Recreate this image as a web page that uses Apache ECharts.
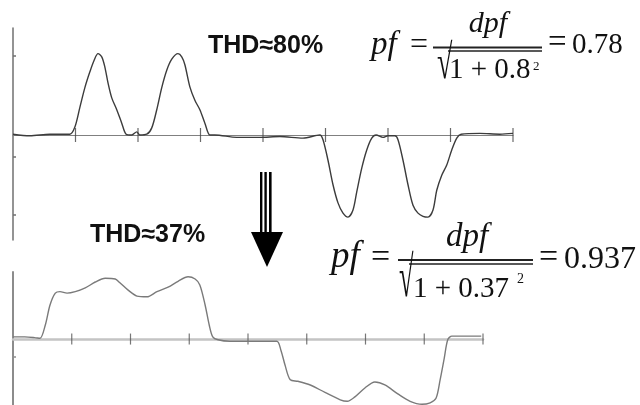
<!DOCTYPE html>
<html><head><meta charset="utf-8">
<script src="https://cdn.jsdelivr.net/npm/echarts@6/dist/echarts.min.js"></script>
<style>html,body{margin:0;padding:0;background:#fff}#c{width:640px;height:405px}</style>
</head><body><div id="c"></div>
<script>
// ---- data (time in tick units 0..8, amplitude relative) ----
const xTicks = [1,2,3,4,5,6,7,8];
const topX = [0,0.27,0.59,0.91,0.99,1.07,1.15,1.23,1.3,1.36,1.42,1.47,1.52,1.58,1.66,1.74,1.81,1.9,1.98,2.03,2.14,2.22,2.3,2.38,2.46,2.54,2.64,2.7,2.75,2.83,2.91,2.99,3.07,3.15,3.23,3.58,3.95,4.27,4.64,4.91,4.96,5.04,5.12,5.2,5.28,5.36,5.44,5.5,5.58,5.66,5.74,5.81,5.92,6.0,6.11,6.16,6.24,6.32,6.4,6.48,6.56,6.64,6.72,6.78,6.86,6.94,7.02,7.1,7.17,7.47,7.79,8.0];
const topY = [0.01,-0.01,0.01,0.01,0.1,0.35,0.6,0.8,0.95,1.03,0.99,0.86,0.66,0.47,0.32,0.15,0.01,0,0.04,0,0.01,0.09,0.32,0.6,0.82,0.96,1.03,0.99,0.89,0.61,0.44,0.32,0.15,0,0,-0.03,-0.03,-0.02,-0.04,0,-0.06,-0.32,-0.63,-0.86,-0.99,-1.04,-0.95,-0.72,-0.42,-0.19,-0.04,0,-0.03,-0.01,-0.01,-0.06,-0.32,-0.63,-0.89,-0.99,-1.03,-1.04,-0.95,-0.7,-0.51,-0.38,-0.19,-0.04,0.01,0.02,0.01,0.02];
const botX = [0,0.2,0.37,0.46,0.55,0.63,0.72,0.8,0.92,1.06,1.23,1.4,1.57,1.74,1.82,1.96,2.11,2.28,2.45,2.64,2.81,2.98,3.1,3.18,3.27,3.34,3.4,3.49,3.69,4.03,4.49,4.56,4.63,4.72,4.85,5.06,5.31,5.57,5.69,5.82,5.99,6.16,6.33,6.55,6.76,6.96,7.1,7.2,7.27,7.34,7.4,7.47,7.61,7.78,7.97];
const botY = [0.03,0.03,0.02,0.01,0.19,0.46,0.62,0.64,0.62,0.64,0.69,0.77,0.82,0.81,0.76,0.66,0.58,0.57,0.64,0.7,0.78,0.84,0.81,0.73,0.46,0.19,0.03,-0.01,-0.03,-0.03,-0.03,-0.15,-0.35,-0.55,-0.57,-0.62,-0.72,-0.82,-0.84,-0.78,-0.66,-0.58,-0.62,-0.74,-0.84,-0.88,-0.86,-0.8,-0.55,-0.26,-0.01,0.04,0.04,0.04,0.04];
const topYTicks = [1, -0.28, -1.01];
const botYTicks = [-0.24];
const thdTop = 'THD≈80%';
const thdBot = 'THD≈37%';

const chart = echarts.init(document.getElementById('c'), null, {renderer:'canvas'});
const zip = (xs, ys) => xs.map((x, i) => [x, ys[i]]);

function xAx(grid, lineColor, lineWidth) {
  return {type:'value', gridIndex:grid, min:0, max:8, interval:1,
    axisLine:{show:true, onZero:true, lineStyle:{color:lineColor, width:lineWidth}},
    axisTick:{show:false}, axisLabel:{show:false}, splitLine:{show:false}};
}
function yAx(grid, min, max, color, width, ticks) {
  return {type:'value', gridIndex:grid, min:min, max:max,
    axisLine:{show:true, onZero:false, lineStyle:{color:color, width:width}},
    axisTick:{show:true, inside:true, length:3, customValues:ticks, lineStyle:{color:color, width:1.5}},
    axisLabel:{show:false}, splitLine:{show:false}};
}

const SERIF = '"Liberation Serif", "Times New Roman", serif';
const SANS = '"Liberation Sans", Arial, sans-serif';
function T(x, base, text, size, opts) {
  opts = opts || {};
  const sy = opts.scaleY || 1;
  return {type:'text', x:x, y:base - 0.34*size*sy, scaleX:opts.scaleX||1, scaleY:sy,
    style:{text:text, font:(opts.italic?'italic ':'')+(opts.bold?'bold ':'')+size+'px '+(opts.family||SERIF),
      fill:'#111', align:opts.align||'left', verticalAlign:'middle'}};
}
function L(x1, y1, x2, y2, w) {
  return {type:'line', shape:{x1:x1, y1:y1, x2:x2, y2:y2}, style:{stroke:'#222', lineWidth:w}};
}

const graphics = [
  T(208, 55, thdTop, 25, {bold:true, family:SANS}),
  T(90, 244, thdBot, 25, {bold:true, family:SANS}),
  // formula 1
  T(371, 57, 'pf', 33, {italic:true}),
  T(410, 56, '=', 32),
  T(488, 34, 'dpf', 30, {italic:true, align:'center'}),
  L(433, 47.5, 542, 47.5, 2),
  L(448, 51, 542, 51, 1.5),
  T(437, 82, '√', 40, {scaleX:0.7, scaleY:1.22}),
  T(449, 80, '1 + 0.8', 29),
  T(533, 71, '2', 13),
  T(548, 55, '=', 33),
  T(572, 55, '0.78', 29),
  // formula 2
  T(331, 270, 'pf', 37, {italic:true}),
  T(371, 270, '=', 34),
  T(467, 249, 'dpf', 33, {italic:true, align:'center'}),
  L(398, 260, 533, 260, 2),
  L(409, 264, 533, 264, 1.5),
  T(399, 300, '√', 44, {scaleX:0.6, scaleY:1.3}),
  T(413, 299, '1 + 0.37', 29),
  T(517, 284, '2', 14),
  T(539, 270, '=', 34),
  T(564, 270, '0.937', 32),
  // arrow
  {type:'rect', shape:{x:260, y:172, width:2.4, height:61}, style:{fill:'#000'}},
  {type:'rect', shape:{x:264.4, y:172, width:2.4, height:61}, style:{fill:'#000'}},
  {type:'rect', shape:{x:269, y:172, width:2.6, height:61}, style:{fill:'#000'}},
  {type:'polygon', shape:{points:[[251,232],[283,232],[267,267]]}, style:{fill:'#000'}}
];

chart.setOption({
  animation:false,
  backgroundColor:'#fff',
  grid:[{left:13, right:127, top:28, bottom:165}, {left:13, right:157, top:272, bottom:0}],
  xAxis:[xAx(0, '#808080', 1), xAx(1, '#c4c4c4', 2.5)],
  yAxis:[yAx(0, -1.33, 1.355, '#707070', 1.5, topYTicks), yAx(1, -0.89, 0.905, '#8c8c8c', 2, botYTicks)],
  series:[
    {type:'scatter', xAxisIndex:0, yAxisIndex:0, data:xTicks.map(v => [v, 0]), symbol:'rect', symbolSize:[1.2, 14],
     itemStyle:{color:'#444'}, silent:true, z:3},
    {type:'scatter', xAxisIndex:1, yAxisIndex:1, data:xTicks.map(v => [v, 0]), symbol:'rect', symbolSize:[1.2, 11],
     itemStyle:{color:'#555'}, silent:true, z:3},
    {type:'line', xAxisIndex:0, yAxisIndex:0, data:zip(topX, topY), showSymbol:false, smooth:0.3,
     lineStyle:{color:'#3c3c3c', width:1.4}, z:4},
    {type:'line', xAxisIndex:1, yAxisIndex:1, data:zip(botX, botY), showSymbol:false, smooth:0.3,
     lineStyle:{color:'#7a7a7a', width:1.4}, z:4}
  ],
  graphic:graphics
});
</script></body></html>
